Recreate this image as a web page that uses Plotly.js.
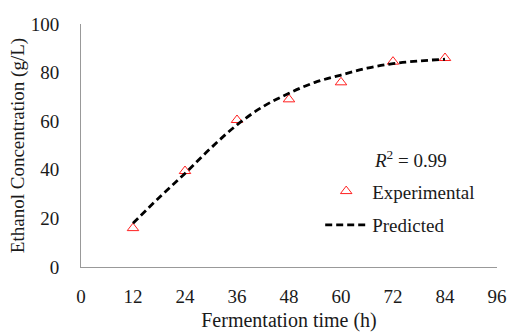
<!DOCTYPE html>
<html><head><meta charset="utf-8">
<script src="https://cdn.plot.ly/plotly-3.0.1.min.js"></script>
<style>html,body{margin:0;padding:0;background:#fff}#chart{width:507px;height:332px}</style>
</head><body><div id="chart"></div>
<script>
const timeH = [12, 24, 36, 48, 60, 72, 84];
const experimental = [16, 39.5, 60.5, 69, 76, 84.5, 86];
const predictedTime = [12, 18, 24, 30, 36, 42, 48, 54, 60, 66, 72, 78, 84];
const predicted = [18, 28.5, 38.5, 49, 58.5, 66, 71.5, 76, 79, 81.8, 83.7, 84.8, 85.5];
const xTicks = [0, 12, 24, 36, 48, 60, 72, 84, 96];
const yTicks = [0, 20, 40, 60, 80, 100];
const fontFam = 'Liberation Serif, DejaVu Serif, serif';
const txt = '#1a1a1a';

const traces = [
  {x: timeH, y: experimental, type: 'scatter', mode: 'markers', name: 'Experimental',
   legendgroup: 'a',
   marker: {symbol: 'triangle-up-open', size: 10, color: '#ff2020', line: {width: 1, color: '#ff2020'}}},
  {x: predictedTime, y: predicted, type: 'scatter', mode: 'lines', name: 'Predicted',
   legendgroup: 'b',
   line: {color: '#000', width: 2.8, dash: '7px,4px', shape: 'spline'}}
];
const layout = {
  width: 507, height: 332,
  margin: {l: 81, r: 10, t: 24, b: 65},
  paper_bgcolor: '#fff', plot_bgcolor: '#fff',
  font: {family: fontFam, size: 18, color: txt},
  showlegend: true,
  legend: {x: 0.575, y: 0.39, xanchor: 'left', yanchor: 'top', bgcolor: 'rgba(0,0,0,0)',
           itemwidth: 42,
           traceorder: 'grouped', tracegroupgap: 6, font: {family: fontFam, size: 19, color: txt}},
  xaxis: {range: [0, 96], tickvals: xTicks, showgrid: false, zeroline: false,
          showline: true, linecolor: '#999', linewidth: 1, ticks: '', ticklabelstandoff: 12,
          tickfont: {family: fontFam, size: 19, color: txt},
          title: {text: 'Fermentation time (h)', standoff: 8, font: {family: fontFam, size: 20, color: txt}}},
  yaxis: {range: [0, 100], tickvals: yTicks, showgrid: false, zeroline: false,
          showline: true, linecolor: '#999', linewidth: 1, ticks: '', ticklabelstandoff: 17,
          tickfont: {family: fontFam, size: 19, color: txt},
          title: {text: 'Ethanol Concentration (g/L)', standoff: 1, font: {family: fontFam, size: 19, color: txt}}},
  annotations: [{xref: 'paper', yref: 'paper', x: 0.7, y: 0.445, xanchor: 'left', yanchor: 'middle',
    showarrow: false, text: '<i>R</i><sup>2</sup> = 0.99', font: {family: fontFam, size: 19, color: txt}}]
};
Plotly.newPlot('chart', traces, layout, {displayModeBar: false, staticPlot: true});
</script></body></html>
